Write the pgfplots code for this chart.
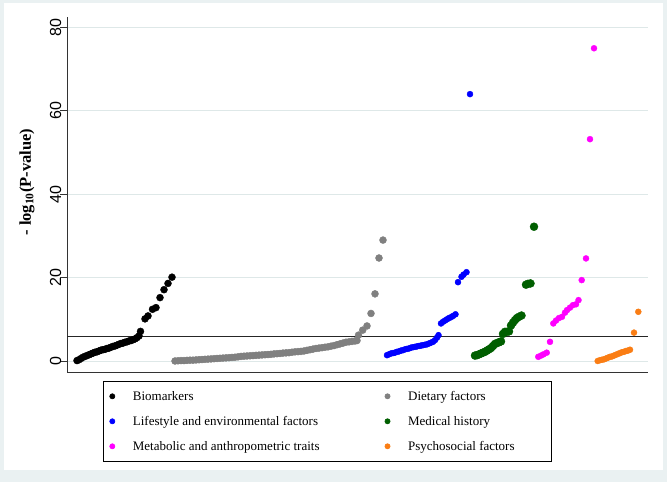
\documentclass[border=0pt]{standalone}
\usepackage{pgfplots}
\pgfplotsset{compat=1.18}
\usepackage{fontspec}
\setmainfont{Liberation Serif}
\newfontfamily\arialf{Liberation Sans}
\definecolor{bgc}{RGB}{234,241,242}
\definecolor{gridc}{RGB}{222,232,232}
\definecolor{mygreen}{RGB}{0,95,0}
\definecolor{myorange}{RGB}{250,125,20}
\definecolor{mygray}{RGB}{128,128,128}
\definecolor{mymag}{RGB}{255,0,255}
\definecolor{myblue}{RGB}{0,0,255}
\begin{document}
\begin{tikzpicture}[x=1pt,y=1pt]
\path[use as bounding box] (0,0) rectangle (667,482);
\fill[bgc] (0,0) rectangle (667,482);
\fill[white] (4,12) rectangle (663,479);
\begin{axis}[
  at={(67pt,110pt)}, anchor=south west, scale only axis,
  width=581pt, height=355pt,
  xmin=67, xmax=648, ymin=-2.64, ymax=82.5,
  clip=false,
  axis x line*=bottom, axis y line*=left,
  axis line style={-, line width=0.8pt, black!80},
  xtick=\empty, ytick={0,20,40,60,80},
  ymajorgrids, grid style={gridc, line width=0.8pt},
  tick align=outside, major tick length=7pt,
  tick style={black!80, line width=0.8pt},
  /pgf/number format/assume math mode=true,
  yticklabel shift=-4.7pt,
  yticklabel style={rotate=90, anchor=south, font=\arialf\fontsize{16}{18}\selectfont},
  ylabel={\bfseries - log\textsubscript{10}(P-value)},
  ylabel style={at={(axis description cs:-0.069,0.535)}, anchor=center, rotate=0, font=\fontsize{16.5}{18}\selectfont},
  legend columns=2,
  legend cell align=left,
  legend image code/.code={\draw[#1, mark size=2.6pt] plot coordinates {(0pt,0pt)};},
  legend style={at={(axis description cs:0.062,-0.0254)}, anchor=north west,
    draw=black, line width=0.6pt, inner xsep=6.4pt, inner ysep=9pt,
    font=\fontsize{13}{15}\selectfont,
    nodes={inner sep=0pt},
    row sep=13pt,
    /tikz/every odd column/.append style={column sep=18pt},
    /tikz/every even column/.append style={column sep=0pt}},
]
% Biomarkers
\addplot[only marks, mark=*, black, mark size=3.5pt] coordinates {
(77,0.1)(79,0.3)(81,0.6)(83,0.9)(85,1.1)(87,1.3)(89,1.5)(91,1.7)(93,1.9)(95,2.1)
(97,2.2)(99,2.4)(101,2.6)(103,2.7)(105,2.8)(107,3.0)(109,3.1)(111,3.3)(113,3.5)(115,3.6)
(117,3.8)(119,4.0)(121,4.2)(123,4.3)(125,4.5)(127,4.6)(129,4.8)(131,4.9)(133,5.1)(135,5.3)
(137,5.6)(139,6.0)(140.5,7.1)(145,10.1)(148,10.8)(152.5,12.4)(156,12.8)(160,15.2)(164,17.1)(168,18.6)(172,20.1)
};
\addlegendentry{\makebox[252pt][l]{\strut Biomarkers}}
% Dietary
\addplot[only marks, mark=*, mygray, mark size=3.5pt] coordinates {
(175,0.0)(178,0.05)(181,0.1)(184,0.1)(187,0.15)(190,0.2)(193,0.2)(196,0.25)(199,0.3)(202,0.35)
(205,0.4)(208,0.45)(211,0.5)(214,0.55)(217,0.6)(220,0.65)(223,0.7)(226,0.75)(229,0.8)(232,0.85)
(235,0.9)(238,1.0)(241,1.1)(244,1.15)(247,1.2)(250,1.25)(253,1.3)(256,1.35)(259,1.4)(262,1.45)
(265,1.5)(268,1.55)(271,1.6)(274,1.7)(277,1.75)(280,1.8)(283,1.9)(286,1.95)(289,2.0)(292,2.1)
(295,2.2)(298,2.25)(301,2.3)(304,2.4)(307,2.55)(310,2.7)(313,2.85)(316,3.0)(319,3.1)(322,3.2)
(325,3.3)(328,3.4)(331,3.55)(334,3.7)(337,3.9)(340,4.1)(343,4.3)(346,4.5)(349,4.6)(352,4.7)
(355,4.8)(357,4.9)(358.5,6.2)(362.7,7.4)(367,8.4)(371,11.4)(375,16.1)(379,24.7)(383,29.0)
};
\addlegendentry{\makebox[137pt][l]{\strut Dietary factors}}
% Lifestyle
\addplot[only marks, mark=*, myblue, mark size=3pt] coordinates {
(387,1.4)(389,1.6)(391,1.8)(393,1.9)(395,2.0)(397,2.2)(399,2.3)(401,2.5)(403,2.6)(405,2.8)
(407,2.9)(409,3.0)(411,3.2)(413,3.3)(415,3.4)(417,3.5)(419,3.6)(421,3.7)(423,3.8)(425,3.9)
(427,4.0)(429,4.2)(431,4.4)(433,4.6)(435,5.0)(437,5.6)(438.5,6.2)
(441,9.0)(443,9.4)(445,9.7)(447,10.0)(449,10.3)(451,10.5)(453,10.8)(455.5,11.2)
(458,18.9)(461.5,20.2)(463.5,20.7)(466.5,21.3)(470,64.0)
};
\addlegendentry{\makebox[252pt][l]{\strut Lifestyle and environmental factors}}
% Medical history
\addplot[only marks, mark=*, mygreen, mark size=4pt] coordinates {
(475,1.3)(477,1.4)(479,1.6)(481,1.8)(483,2.0)(485,2.2)(487,2.5)(489,2.8)(491,3.1)(493,3.6)
(495,4.1)(497,4.3)(499,4.5)(501,4.7)(503,6.5)(505,7.0)(507,7.0)(509,7.1)(511,8.5)(513,9.2)
(515,9.8)(517,10.3)(519,10.6)(521.5,10.9)(526,18.3)(528,18.5)(530.5,18.6)(534,32.2)
};
\addlegendentry{\makebox[137pt][l]{\strut Medical history}}
% Metabolic
\addplot[only marks, mark=*, mymag, mark size=3pt] coordinates {
(538.3,1.0)(541,1.3)(543.5,1.6)(546.7,2.0)(550,4.6)(553.3,9.0)(556,9.7)(559,10.3)(562,10.6)
(565,11.6)(567,12.2)(570,12.8)(573,13.4)(576,13.6)(578.5,14.6)(581.7,19.4)(586,24.6)(590,53.2)(594,75.0)
};
\addlegendentry{\makebox[252pt][l]{\strut Metabolic and anthropometric traits}}
% Psychosocial
\addplot[only marks, mark=*, myorange, mark size=3pt] coordinates {
(597.7,0.0)(600,0.2)(602,0.3)(604,0.4)(606,0.6)(608,0.8)(610,1.0)(612,1.1)(614,1.3)(616,1.5)
(618,1.7)(620,1.9)(622,2.1)(624,2.2)(626,2.4)(628,2.5)(630,2.7)(634,6.8)(638.3,11.8)
};
\addlegendentry{\makebox[137pt][l]{\strut Psychosocial factors}}
% threshold
\addplot[forget plot, no marks, black!85, line width=0.8pt] coordinates {(67,5.85) (648,5.85)};
\end{axis}
\end{tikzpicture}
\end{document}
